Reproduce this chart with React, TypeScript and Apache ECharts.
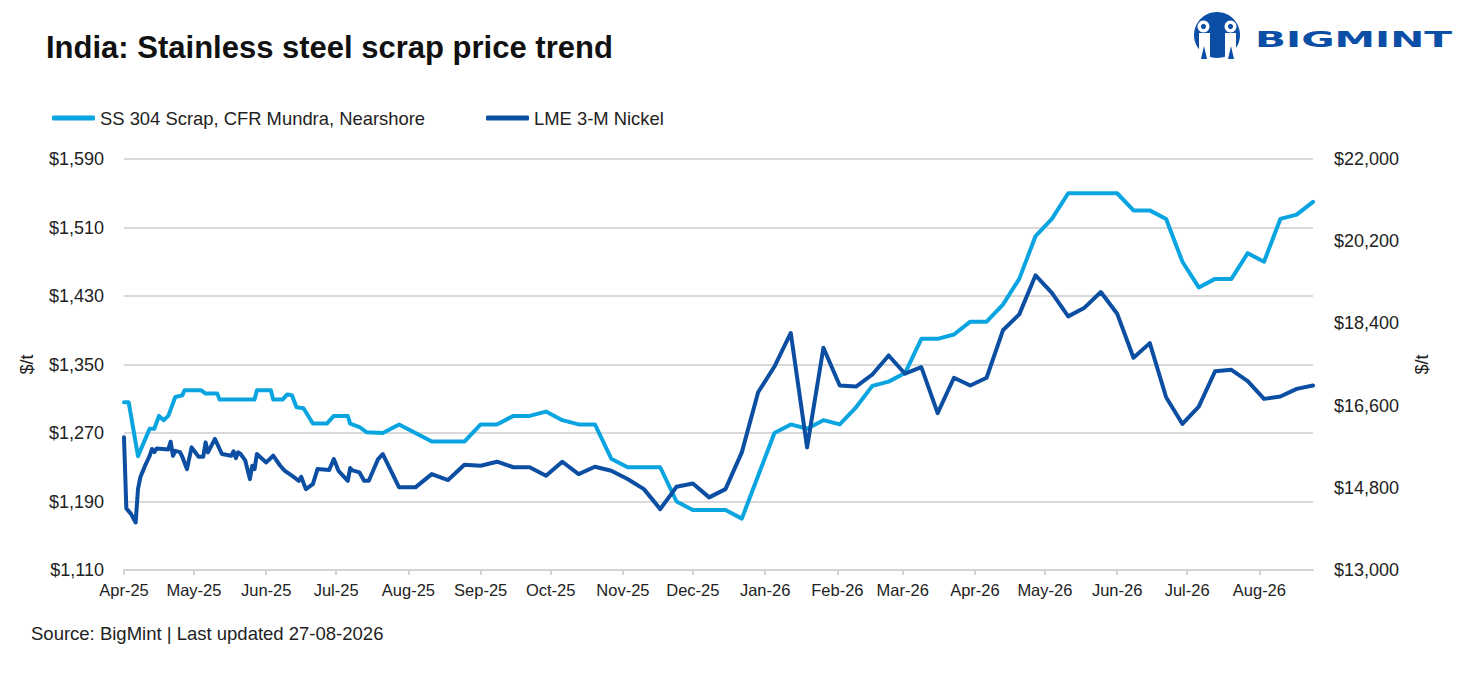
import { useEffect, useRef } from "react";
import * as echarts from "echarts";

const FONT = "'Liberation Sans', Arial, sans-serif";
const SS_NAME = "SS 304 Scrap, CFR Mundra, Nearshore";
const LME_NAME = "LME 3-M Nickel";

// left axis ($/t scrap) and right axis (LME nickel) ranges
const leftTicks = [1110, 1190, 1270, 1350, 1430, 1510, 1590];
const rightTicks = [13000, 14800, 16600, 18400, 20200, 22000];

// early period: irregular (near daily) readings
const lmeEarlyDates = [
  "2025-04-01", "2025-04-02", "2025-04-04", "2025-04-06", "2025-04-07", "2025-04-08", "2025-04-10",
  "2025-04-12", "2025-04-13", "2025-04-14", "2025-04-15", "2025-04-20", "2025-04-21", "2025-04-22",
  "2025-04-23", "2025-04-25", "2025-04-26", "2025-04-28", "2025-04-30",
  "2025-05-03", "2025-05-05", "2025-05-06", "2025-05-07", "2025-05-10", "2025-05-12", "2025-05-13",
  "2025-05-17", "2025-05-18", "2025-05-19", "2025-05-20", "2025-05-21", "2025-05-23", "2025-05-25",
  "2025-05-26", "2025-05-27", "2025-05-28",
  "2025-06-01", "2025-06-04", "2025-06-07", "2025-06-09", "2025-06-12", "2025-06-15", "2025-06-16",
  "2025-06-18", "2025-06-21", "2025-06-23", "2025-06-28", "2025-06-30",
  "2025-07-02", "2025-07-06", "2025-07-07", "2025-07-08", "2025-07-11", "2025-07-13", "2025-07-15",
  "2025-07-19",
];
const lmeEarlyValues = [
  15905, 14350, 14230, 14040, 14770, 15030, 15280, 15500, 15650, 15580, 15660, 15640, 15810, 15500,
  15610, 15580, 15480, 15210, 15685,
  15480, 15480, 15795, 15576, 15870, 15650, 15540, 15500, 15600, 15450, 15576, 15540, 15400, 14990,
  15283, 15210, 15540,
  15356, 15503, 15283, 15173, 15064, 14954, 15042, 14771, 14881, 15210, 15188, 15430,
  15173, 14954, 15232, 15180, 15137, 14954, 14954, 15430,
];

const ssEarlyDates = [
  "2025-04-01", "2025-04-03", "2025-04-07", "2025-04-12", "2025-04-14", "2025-04-16", "2025-04-18",
  "2025-04-20", "2025-04-23", "2025-04-26", "2025-04-27", "2025-05-04", "2025-05-06", "2025-05-11",
  "2025-05-12", "2025-05-27", "2025-05-28", "2025-06-03", "2025-06-04", "2025-06-08", "2025-06-10",
  "2025-06-12", "2025-06-14", "2025-06-17", "2025-06-21", "2025-06-27", "2025-06-30", "2025-07-06",
  "2025-07-07", "2025-07-11", "2025-07-14",
];
const ssEarlyValues = [
  1306, 1306, 1243, 1275, 1275, 1290, 1285, 1290, 1312, 1314, 1320, 1320, 1316, 1316,
  1309, 1309, 1320, 1320, 1309, 1309, 1315, 1314, 1300, 1299, 1281, 1281, 1290, 1290,
  1281, 1277, 1271,
];

// weekly readings from late July 2025
const weeklyDates = [
  "2025-07-21", "2025-07-28", "2025-08-04", "2025-08-11", "2025-08-18", "2025-08-25",
  "2025-09-01", "2025-09-08", "2025-09-15", "2025-09-22", "2025-09-29",
  "2025-10-06", "2025-10-13", "2025-10-20", "2025-10-27",
  "2025-11-03", "2025-11-10", "2025-11-17", "2025-11-24",
  "2025-12-01", "2025-12-08", "2025-12-15", "2025-12-22", "2025-12-29",
  "2026-01-05", "2026-01-12", "2026-01-19", "2026-01-26",
  "2026-02-02", "2026-02-09", "2026-02-16", "2026-02-23",
  "2026-03-02", "2026-03-09", "2026-03-16", "2026-03-23", "2026-03-30",
  "2026-04-06", "2026-04-13", "2026-04-20", "2026-04-27",
  "2026-05-04", "2026-05-11", "2026-05-18", "2026-05-25",
  "2026-06-01", "2026-06-08", "2026-06-15", "2026-06-22", "2026-06-29",
  "2026-07-06", "2026-07-13", "2026-07-20", "2026-07-27",
  "2026-08-03", "2026-08-10", "2026-08-17", "2026-08-24",
];
const ssWeeklyValues = [
  1270, 1280, 1270, 1260, 1260, 1260, 1280, 1280, 1290, 1290, 1295, 1285, 1280, 1280,
  1240, 1230, 1230, 1230, 1190, 1180, 1180, 1180, 1170, 1220, 1270, 1280, 1275, 1285,
  1280, 1300, 1325, 1330, 1340, 1380, 1380, 1385, 1400, 1400, 1420, 1450, 1500, 1520,
  1550, 1550, 1550, 1550, 1530, 1530, 1520, 1470, 1440, 1450, 1450, 1480, 1470, 1520,
  1525, 1540,
];
const lmeWeeklyValues = [
  15540, 14810, 14810, 15100, 14970, 15305, 15283, 15371, 15250, 15250, 15064, 15371, 15100, 15261,
  15173, 14991, 14771, 14333, 14822, 14895, 14590, 14771, 15576, 16892, 17456, 18190, 15685, 17867,
  17040, 17017, 17281, 17698, 17298, 17441, 16435, 17210, 17040, 17210, 18249, 18598, 19454, 19070,
  18554, 18745, 19087, 18613, 17647, 17968, 16783, 16198, 16578, 17353, 17383, 17134, 16747, 16798,
  16967, 17040,
];

const MONTHS = ["Jan", "Feb", "Mar", "Apr", "May", "Jun", "Jul", "Aug", "Sep", "Oct", "Nov", "Dec"];
const DAY = 24 * 3600 * 1000;

const monthLabel = (v: number) => {
  const d = new Date(v);
  if (d.getDate() !== 1) return "";
  return MONTHS[d.getMonth()] + "-" + String(d.getFullYear()).slice(2);
};
const usd = (v: number) => "$" + v.toLocaleString("en-US");

const pairs = (dates: string[], values: number[]) => dates.map((d, i) => [d, values[i]]);

const LogoBlue = "#0b4ea6";

const App = () => {
  const chartRef = useRef<HTMLDivElement>(null);

  useEffect(() => {
    if (!chartRef.current) return;
    const chart = echarts.init(chartRef.current, null, { renderer: "svg" });

    const ssData = [...pairs(ssEarlyDates, ssEarlyValues), ...pairs(weeklyDates, ssWeeklyValues)];
    const lmeData = [...pairs(lmeEarlyDates, lmeEarlyValues), ...pairs(weeklyDates, lmeWeeklyValues)];

    const legendBase = {
      top: 104,
      icon: "roundRect",
      itemWidth: 43,
      itemHeight: 5,
      textStyle: { fontSize: 18.4, color: "#222", fontFamily: FONT },
    };

    const option = {
      animation: false,
      backgroundColor: "#ffffff",
      textStyle: { fontFamily: FONT },
      title: {
        text: "India: Stainless steel scrap price trend",
        left: 41,
        top: 27,
        textStyle: { fontSize: 31, fontWeight: "bold", color: "#111", fontFamily: FONT },
      },
      legend: [
        { ...legendBase, left: 47, data: [SS_NAME] },
        { ...legendBase, left: 481, data: [LME_NAME] },
      ],
      grid: { left: 124, right: 155, top: 159, bottom: 106, containLabel: false, outerBoundsMode: "none" },
      xAxis: {
        type: "time",
        min: ssEarlyDates[0],
        max: weeklyDates[weeklyDates.length - 1],
        splitNumber: 17,
        minInterval: 28 * DAY,
        maxInterval: 31 * DAY,
        axisLine: { lineStyle: { color: "#d4d4d4", width: 2 } },
        axisTick: { show: true, length: 5, lineStyle: { color: "#d4d4d4", width: 2 } },
        splitLine: { show: false },
        axisLabel: { formatter: monthLabel, fontSize: 16.5, color: "#222", margin: 11, hideOverlap: false },
      },
      yAxis: [
        {
          type: "value",
          min: leftTicks[0],
          max: leftTicks[leftTicks.length - 1],
          interval: leftTicks[1] - leftTicks[0],
          name: "$/t",
          nameLocation: "middle",
          nameRotate: 90,
          nameGap: 88,
          nameTextStyle: { fontSize: 18, color: "#222" },
          axisLine: { show: false },
          axisTick: { show: false },
          splitLine: { lineStyle: { color: "#d9d9d9", width: 2 } },
          axisLabel: { formatter: usd, fontSize: 18, color: "#222", margin: 20 },
        },
        {
          type: "value",
          position: "right",
          min: rightTicks[0],
          max: rightTicks[rightTicks.length - 1],
          interval: rightTicks[1] - rightTicks[0],
          name: "$/t",
          nameLocation: "middle",
          nameRotate: 90,
          nameGap: 100,
          nameTextStyle: { fontSize: 18, color: "#222" },
          axisLine: { show: false },
          axisTick: { show: false },
          splitLine: { show: false },
          axisLabel: { formatter: usd, fontSize: 18, color: "#222", margin: 21 },
        },
      ],
      series: [
        {
          name: SS_NAME,
          type: "line",
          yAxisIndex: 0,
          data: ssData,
          showSymbol: false,
          color: "#0aa5e1",
          lineStyle: { width: 4, color: "#0aa5e1", cap: "round", join: "round" },
        },
        {
          name: LME_NAME,
          type: "line",
          yAxisIndex: 1,
          data: lmeData,
          showSymbol: false,
          color: "#0b4ea2",
          lineStyle: { width: 4, color: "#0b4ea2", cap: "round", join: "round" },
        },
      ],
      graphic: [
        {
          type: "text",
          left: 31,
          top: 624,
          style: { text: "Source: BigMint | Last updated 27-08-2026", fontSize: 18.5, fill: "#222", fontFamily: FONT },
        },
        // BigMint logo
        { type: "circle", shape: { cx: 1217, cy: 35, r: 23 }, style: { fill: LogoBlue } },
        { type: "rect", shape: { x: 1199, y: 33, width: 11, height: 28 }, style: { fill: "#fff" } },
        { type: "rect", shape: { x: 1225, y: 33, width: 11, height: 28 }, style: { fill: "#fff" } },
        { type: "polygon", shape: { points: [[1201, 59], [1204, 46], [1207, 59]] }, style: { fill: LogoBlue } },
        { type: "polygon", shape: { points: [[1228, 59], [1231, 46], [1234, 59]] }, style: { fill: LogoBlue } },
        { type: "ring", shape: { cx: 1203.5, cy: 26.5, r: 6, r0: 2.6 }, style: { fill: "#fff" } },
        { type: "ring", shape: { cx: 1230.5, cy: 26.5, r: 6, r0: 2.6 }, style: { fill: "#fff" } },
        {
          type: "text",
          x: 1255,
          y: 40,
          scaleX: 1.85,
          style: {
            text: "BIGMINT",
            fontSize: 22,
            fontWeight: "bold",
            fontFamily: "'DejaVu Sans', sans-serif",
            fill: LogoBlue,
            verticalAlign: "middle",
          },
        },
      ],
    };

    chart.setOption(option);
    return () => {
      chart.dispose();
    };
  }, []);

  return (
    <div
      ref={chartRef}
      style={{ position: "fixed", left: 0, top: 0, width: 1468, height: 676, background: "#fff" }}
    />
  );
};

export default App;
